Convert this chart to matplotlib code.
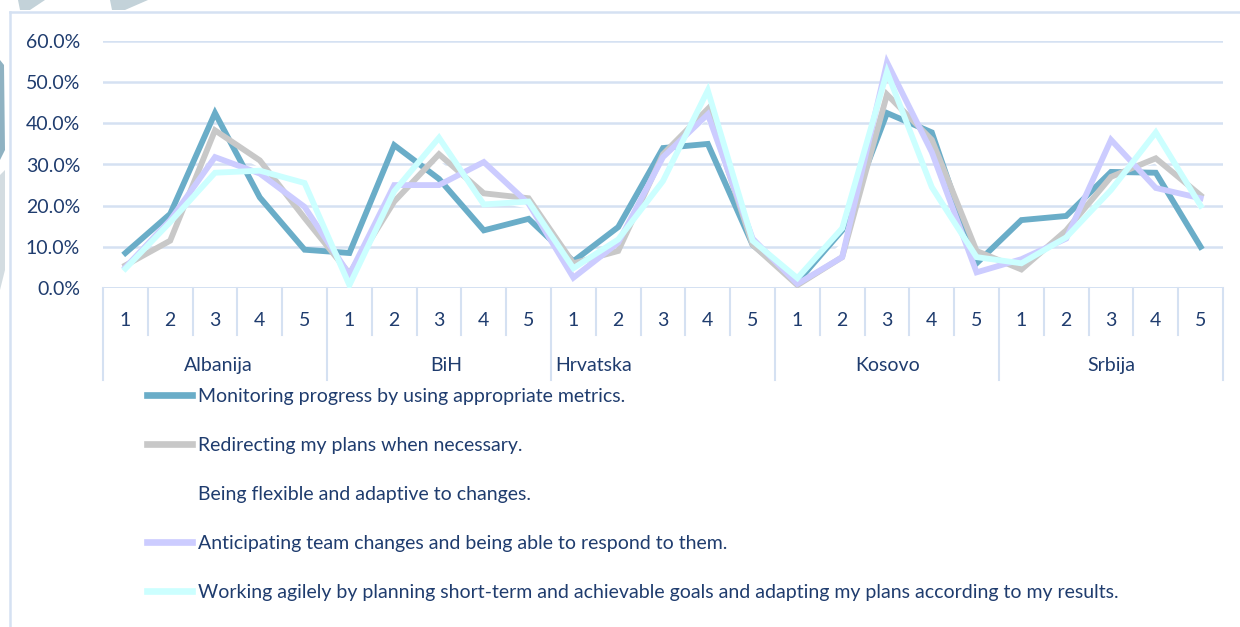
import numpy as np
import matplotlib
matplotlib.use("Agg")
import matplotlib.pyplot as plt
from matplotlib.lines import Line2D
from matplotlib.patches import Polygon

plt.rcParams['font.family'] = ['Lato', 'DejaVu Sans']

countries = ['Albanija', 'BiH', 'Hrvatska', 'Kosovo', 'Srbija']
levels = ['1', '2', '3', '4', '5']

labels = ['Monitoring progress by using appropriate metrics.',
          'Redirecting my plans when necessary.',
          'Being flexible and adaptive to changes.',
          'Anticipating team changes and being able to respond to them.',
          'Working agilely by planning short-term and achievable goals and adapting my plans according to my results.']

monitoring = [8.5, 18.0, 42.5, 22.0, 9.3, 8.5, 34.7, 26.5, 14.0, 16.8,
              6.5, 14.8, 34.0, 35.0, 10.5, 1.5, 14.0, 42.5, 37.8, 6.0,
              16.5, 17.5, 28.2, 28.0, 10.0]
redirecting = [5.5, 11.5, 38.3, 31.0, 17.0, 3.5, 21.0, 32.5, 23.0, 21.8,
               6.0, 9.0, 32.5, 43.5, 10.5, 0.7, 7.5, 47.0, 36.0, 9.0,
               4.5, 14.0, 27.0, 31.5, 22.5]
flexible = [6.0, 15.0, 36.0, 30.0, 18.0, 3.0, 24.0, 30.0, 22.0, 20.0,
            5.0, 11.0, 32.0, 42.0, 11.0, 1.0, 10.0, 48.0, 35.0, 7.0,
            6.0, 13.0, 28.0, 31.0, 20.0]
anticipating = [5.0, 16.5, 31.8, 27.8, 19.7, 3.2, 25.0, 25.0, 30.6, 20.5,
                2.5, 11.0, 31.8, 42.2, 12.0, 1.0, 7.5, 54.8, 33.0, 3.8,
                7.0, 12.0, 36.0, 24.3, 21.8]
agile = [4.7, 16.0, 28.0, 28.5, 25.5, 0.7, 23.5, 36.5, 20.3, 21.0,
         4.8, 11.8, 26.0, 48.0, 11.5, 2.4, 14.5, 52.5, 24.5, 7.5,
         6.0, 12.3, 23.8, 37.8, 20.0]

series = [monitoring, redirecting, flexible, anticipating, agile]
colors = ['#6AADC8', '#C8C8C8', '#FFFFFF', '#CCCCFF', '#CCFFFF']
zorders = [3, 3, 2, 3, 3]

navy = '#1F3C6E'
grid_c = '#D5E1F2'
fs = 14

W, H = 1240, 627
fig = plt.figure(figsize=(W / 100, H / 100), dpi=100)
ax = fig.add_axes([103 / W, 1 - 288 / H, 1120 / W, 247 / H])

n = len(countries) * len(levels)
x = np.arange(n) + 0.5
for vals, c, lab, z in zip(series, colors, labels, zorders):
    ax.plot(x, np.array(vals) / 100, color=c, lw=4.2, label=lab,
            solid_joinstyle='miter', zorder=z)

ax.set_xlim(0, n)
ax.set_ylim(0, 0.6)
yt = np.arange(0, 0.61, 0.1)
ax.set_yticks(yt)
ax.set_yticklabels([f'{v * 100:.1f}%' for v in yt], color=navy, fontsize=fs)
ax.tick_params(axis='y', length=0, pad=16.5)
ax.set_xticks([])
ax.grid(axis='y', color=grid_c, lw=1.8, zorder=0)
for s in ax.spines.values():
    s.set_visible(False)
ax.axhline(0, color=grid_c, lw=2, zorder=1)

# category axis: inner ticks, group separators, labels
tr = ax.get_xaxis_transform()
for i in range(n + 1):
    bottom = -0.372 if i % 5 == 0 else -0.19
    ax.plot([i, i], [0, bottom], transform=tr, color=grid_c, lw=1.5,
            clip_on=False, zorder=1)
for i in range(n):
    ax.text(i + 0.5, -0.13, levels[i % 5], transform=tr, ha='center',
            va='center', color=navy, fontsize=fs)
group_x = [2.57, 7.66, 10.96, 17.52, 22.5]
for gx, name in zip(group_x, countries):
    ax.text(gx, -0.312, name, transform=tr, ha='center', va='center',
            color=navy, fontsize=fs)

# chart border
fig.add_artist(Line2D([10 / W, 1], [1 - 12 / H, 1 - 12 / H], color=grid_c, lw=1.8))
fig.add_artist(Line2D([10 / W, 10 / W], [0, 1 - 12 / H], color=grid_c, lw=1.8))

# decorative corner shapes behind the chart frame
def px(pts):
    return [(a / W, 1 - b / H) for a, b in pts]

for pts, fc in [([(18, 0), (45, 0), (30, 10), (20, 10)], '#C3D2D9'),
                ([(110, 0), (148, 0), (125, 10), (112, 10)], '#C3D2D9'),
                ([(0, 60), (4, 65), (5, 150), (0, 160)], '#8FB2C2'),
                ([(0, 175), (5, 170), (5, 270), (0, 290)], '#D3DCE1')]:
    fig.add_artist(Polygon(px(pts), closed=True, fc=fc, ec='none'))

leg = ax.legend(loc='upper left', bbox_to_anchor=(137 / W, 1 - 378 / H),
                bbox_transform=fig.transFigure, frameon=False, fontsize=fs,
                handlelength=2.35, handletextpad=0.3, labelspacing=1.65,
                borderpad=0)
for t in leg.get_texts():
    t.set_color(navy)
for h in leg.get_lines():
    h.set_linewidth(4.8)

fig.savefig('out.png', dpi=100)
